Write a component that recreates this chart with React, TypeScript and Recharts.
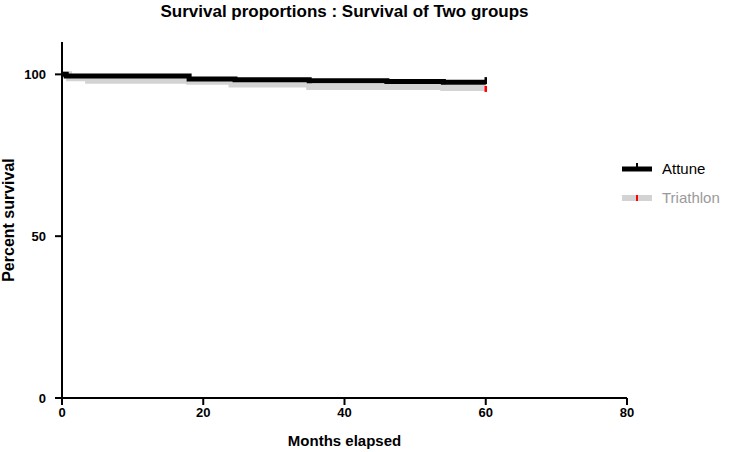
import { LineChart, Line, XAxis, YAxis, Label } from "recharts";

// Kaplan-Meier step points (months, percent survival)
const attuneMonths = [0, 0.6, 18, 24.5, 35, 46, 54, 60];
const attuneSurvival = [100, 99.5, 98.6, 98.3, 98.0, 97.8, 97.6, 97.6];

const triathlonMonths = [0, 1, 3.7, 18, 24, 35, 54, 60];
const triathlonSurvival = [100, 98.8, 98.0, 97.7, 96.9, 96.1, 95.8, 95.8];

const xTicks = [0, 20, 40, 60, 80];
const yTicks = [0, 50, 100];

const seriesNames = ["Attune", "Triathlon"];

// value of a step function at time t
const stepValue = (times: number[], vals: number[], t: number) => {
  let v = vals[0];
  for (let i = 0; i < times.length; i++) if (times[i] <= t) v = vals[i];
  return v;
};

const allTimes = Array.from(new Set([...attuneMonths, ...triathlonMonths])).sort(
  (a, b) => a - b
);

const data = allTimes.map((t) => ({
  t,
  attune: stepValue(attuneMonths, attuneSurvival, t),
  triathlon: stepValue(triathlonMonths, triathlonSurvival, t),
}));

const font = "'Liberation Sans', Arial, sans-serif";

// censor tick only at the last point
const makeEndTick = (color: string, up: number, down: number) =>
  // eslint-disable-next-line @typescript-eslint/no-explicit-any
  (props: any) => {
    const { cx, cy, index } = props;
    if (index !== data.length - 1) return <g key={`d${index}`} />;
    return (
      <line
        key={`d${index}`}
        x1={cx}
        x2={cx}
        y1={cy - up}
        y2={cy + down}
        stroke={color}
        strokeWidth={2.5}
      />
    );
  };

const LegendBox = () => (
  <div
    style={{
      position: "absolute",
      left: 616,
      top: 154,
      fontFamily: font,
      fontSize: 15,
    }}
  >
    {seriesNames.map((name, i) => (
      <div
        key={name}
        style={{ display: "flex", alignItems: "center", height: 29 }}
      >
        <svg width={40} height={14}>
          <line
            x1={6}
            x2={36}
            y1={7}
            y2={7}
            stroke={i === 0 ? "#000" : "#d3d3d3"}
            strokeWidth={i === 0 ? 5 : 6}
          />
          <line
            x1={21}
            x2={21}
            y1={i === 0 ? 1 : 4}
            y2={i === 0 ? 7 : 10}
            stroke={i === 0 ? "#000" : "#ff0000"}
            strokeWidth={2}
          />
        </svg>
        <span style={{ marginLeft: 6, color: i === 0 ? "#000" : "#9a9a9a" }}>
          {name}
        </span>
      </div>
    ))}
  </div>
);

export default function App() {
  return (
    <div
      style={{
        position: "absolute",
        left: 0,
        top: 0,
        width: 747,
        height: 452,
        background: "#fff",
        fontFamily: font,
      }}
    >
      <div
        style={{
          position: "absolute",
          left: 62,
          width: 565,
          top: 2,
          textAlign: "center",
          fontWeight: "bold",
          fontSize: 17,
        }}
      >
        Survival proportions : Survival of Two groups
      </div>
      <LineChart
        width={747}
        height={452}
        data={data}
        margin={{ top: 42, right: 120, left: 0, bottom: 0 }}
      >
        <XAxis
          dataKey="t"
          type="number"
          domain={[0, 80]}
          ticks={xTicks}
          height={54}
          axisLine={{ stroke: "#000", strokeWidth: 2 }}
          tickLine={{ stroke: "#000", strokeWidth: 2 }}
          tickSize={7}
          tickMargin={3}
          tick={{ fill: "#000", fontSize: 13, fontWeight: "bold", fontFamily: font }}
        >
          <Label
            value="Months elapsed"
            position="insideBottom"
            offset={6}
            style={{ fill: "#000", fontSize: 15, fontWeight: "bold", fontFamily: font }}
          />
        </XAxis>
        <YAxis
          type="number"
          domain={[0, 110]}
          ticks={yTicks}
          width={62}
          axisLine={{ stroke: "#000", strokeWidth: 2 }}
          tickLine={{ stroke: "#000", strokeWidth: 2 }}
          tickSize={7}
          tickMargin={9}
          tick={{ fill: "#000", fontSize: 13, fontWeight: "bold", fontFamily: font }}
        >
          <Label
            value="Percent survival"
            angle={-90}
            position="insideLeft"
            offset={8}
            style={{
              textAnchor: "middle",
              fill: "#000",
              fontSize: 16,
              fontWeight: "bold",
              fontFamily: font,
            }}
          />
        </YAxis>
        <Line
          type="stepAfter"
          dataKey="triathlon"
          name="Triathlon"
          stroke="#d3d3d3"
          strokeWidth={6}
          dot={makeEndTick("#ff0000", 2, 4)}
          activeDot={false}
          isAnimationActive={false}
        />
        <Line
          type="stepAfter"
          dataKey="attune"
          name="Attune"
          stroke="#000"
          strokeWidth={5}
          dot={makeEndTick("#000", 5, 2)}
          activeDot={false}
          isAnimationActive={false}
        />
      </LineChart>
      <LegendBox />
    </div>
  );
}
